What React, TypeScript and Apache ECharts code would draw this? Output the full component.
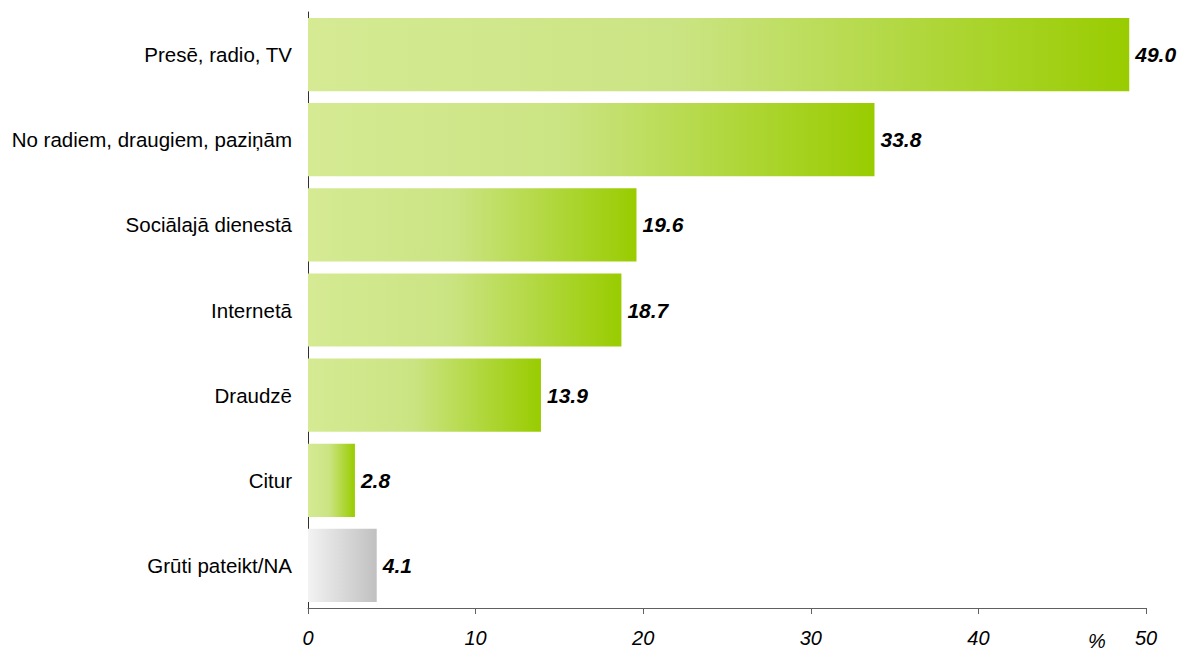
import React, { useEffect, useRef } from "react";
import * as echarts from "echarts";

const categories = [
  "Presē, radio, TV",
  "No radiem, draugiem, paziņām",
  "Sociālajā dienestā",
  "Internetā",
  "Draudzē",
  "Citur",
  "Grūti pateikt/NA",
];
const values = [49.0, 33.8, 19.6, 18.7, 13.9, 2.8, 4.1];
const grayIndex = [6];
const xTicks = [0, 10, 20, 30, 40, 50];
const unitLabel = "%";

const FONT = "'Liberation Sans', Arial, sans-serif";

export default function App() {
  const ref = useRef<HTMLDivElement>(null);
  useEffect(() => {
    if (!ref.current) return;
    const chart = echarts.init(ref.current, undefined, { renderer: "svg" });
    const green = new echarts.graphic.LinearGradient(0, 0, 1, 0, [
      { offset: 0, color: "#d5ea93" },
      { offset: 0.45, color: "#cbe483" },
      { offset: 1, color: "#99cc00" },
    ]);
    const gray = new echarts.graphic.LinearGradient(0, 0, 1, 0, [
      { offset: 0, color: "#f3f3f3" },
      { offset: 1, color: "#c0c0c0" },
    ]);
    const yCats = [...categories].reverse();
    const yVals = [...values]
      .map((v, i) => ({
        value: v,
        itemStyle: { color: grayIndex.includes(i) ? gray : green },
      }))
      .reverse();
    chart.setOption({
      animation: false,
      backgroundColor: "#ffffff",
      grid: { left: 308, right: 31, top: 12, bottom: 44, containLabel: false },
      xAxis: {
        type: "value",
        min: xTicks[0],
        max: xTicks[xTicks.length - 1],
        interval: 10,
        splitLine: { show: false },
        axisLine: { show: true, lineStyle: { color: "#606060", width: 1 } },
        axisTick: { show: true, length: 6, lineStyle: { color: "#606060" } },
        axisLabel: {
          margin: 20,
          color: "#000",
          fontSize: 20,
          fontStyle: "italic",
          fontFamily: FONT,
        },
      },
      yAxis: {
        type: "category",
        data: yCats,
        axisLine: { show: true, lineStyle: { color: "#303030", width: 1 } },
        axisTick: { show: false },
        axisLabel: {
          margin: 16,
          color: "#000",
          fontSize: 20.5,
          fontFamily: FONT,
        },
      },
      graphic: [
        {
          type: "text",
          left: 1088,
          top: 631,
          style: {
            text: unitLabel,
            fill: "#000",
            font: `italic 20px ${FONT}`,
          },
        },
      ],
      series: [
        {
          type: "bar",
          data: yVals,
          barCategoryGap: "14%",
          label: {
            show: true,
            position: "right",
            distance: 6,
            formatter: (p: any) => Number(p.value).toFixed(1),
            color: "#000",
            fontSize: 21,
            fontStyle: "italic",
            fontWeight: "bold",
            fontFamily: FONT,
          },
        },
      ],
    });
    return () => chart.dispose();
  }, []);
  return (
    <div
      ref={ref}
      style={{ position: "fixed", left: 0, top: 0, width: 1177, height: 652 }}
    />
  );
}
